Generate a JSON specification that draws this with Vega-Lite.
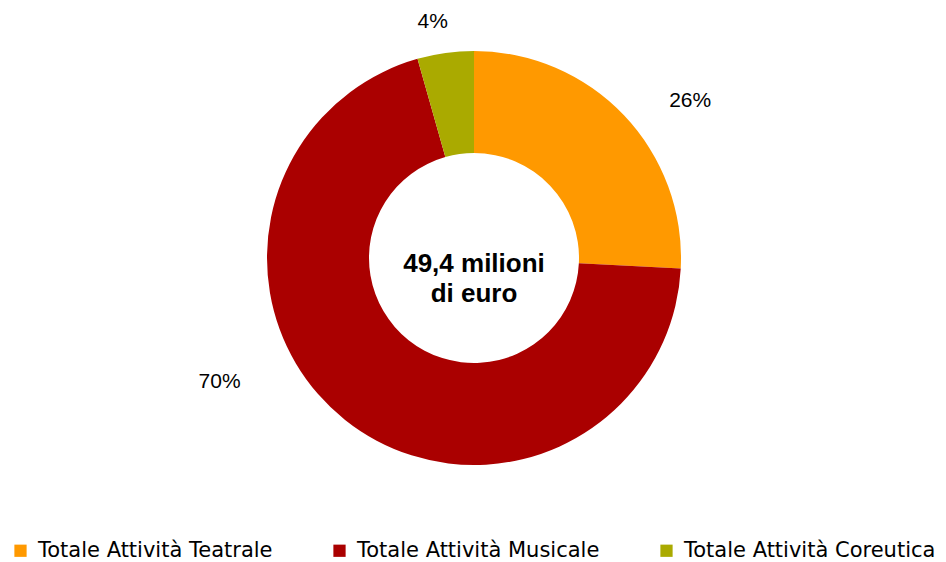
{
  "$schema": "https://vega.github.io/schema/vega-lite/v6.json",
  "width": 946,
  "height": 516,
  "autosize": {"type": "none"},
  "padding": {"left": 1, "top": 0, "right": 0, "bottom": 46},
  "background": "white",
  "config": {"view": {"stroke": null}},
  "data": {
    "values": [
      {"categoria": "Totale Attività Teatrale", "quota": 0.258, "ordine": 1},
      {"categoria": "Totale Attività Musicale", "quota": 0.698, "ordine": 2},
      {"categoria": "Totale Attività Coreutica", "quota": 0.044, "ordine": 3}
    ]
  },
  "layer": [
    {
      "mark": {"type": "arc", "outerRadius": 207, "innerRadius": 105, "stroke": null},
      "encoding": {
        "theta": {"field": "quota", "type": "quantitative", "stack": true},
        "order": {"field": "ordine", "type": "quantitative"},
        "color": {
          "field": "categoria",
          "type": "nominal",
          "scale": {
            "domain": ["Totale Attività Teatrale", "Totale Attività Musicale", "Totale Attività Coreutica"],
            "range": ["#FF9900", "#AA0000", "#AAAA00"]
          },
          "legend": {
            "title": null,
            "orient": "none",
            "legendX": 9,
            "legendY": 540,
            "direction": "horizontal",
            "columns": 3,
            "columnPadding": 56,
            "symbolType": "square",
            "symbolSize": 150,
            "symbolStrokeWidth": 0,
            "labelFont": "DejaVu Sans",
            "labelFontSize": 21,
            "labelColor": "black",
            "labelOffset": 7,
            "labelLimit": 400
          }
        }
      }
    },
    {
      "mark": {
        "type": "text",
        "radius": 240,
        "font": "Liberation Sans",
        "fontSize": 21,
        "color": "black",
        "align": "center",
        "baseline": "middle",
        "thetaOffset": {"expr": "datum.categoria == 'Totale Attività Teatrale' ? 0.133 : datum.categoria == 'Totale Attività Musicale' ? 0.445 : -0.035"},
        "radiusOffset": {"expr": "datum.categoria == 'Totale Attività Teatrale' ? 27 : datum.categoria == 'Totale Attività Musicale' ? 43 : 0"}
      },
      "encoding": {
        "theta": {"field": "quota", "type": "quantitative", "stack": true},
        "order": {"field": "ordine", "type": "quantitative"},
        "detail": {"field": "categoria", "type": "nominal"},
        "text": {"field": "quota", "type": "quantitative", "format": ".0%"}
      }
    },
    {
      "data": {"values": [{"testo": "49,4 milioni\ndi euro"}]},
      "mark": {
        "type": "text",
        "font": "Liberation Sans",
        "fontWeight": "bold",
        "fontSize": 26,
        "lineHeight": 30,
        "lineBreak": "\n",
        "align": "center",
        "baseline": "middle",
        "dy": 6,
        "color": "black"
      },
      "encoding": {
        "text": {"field": "testo", "type": "nominal"}
      }
    }
  ]
}
